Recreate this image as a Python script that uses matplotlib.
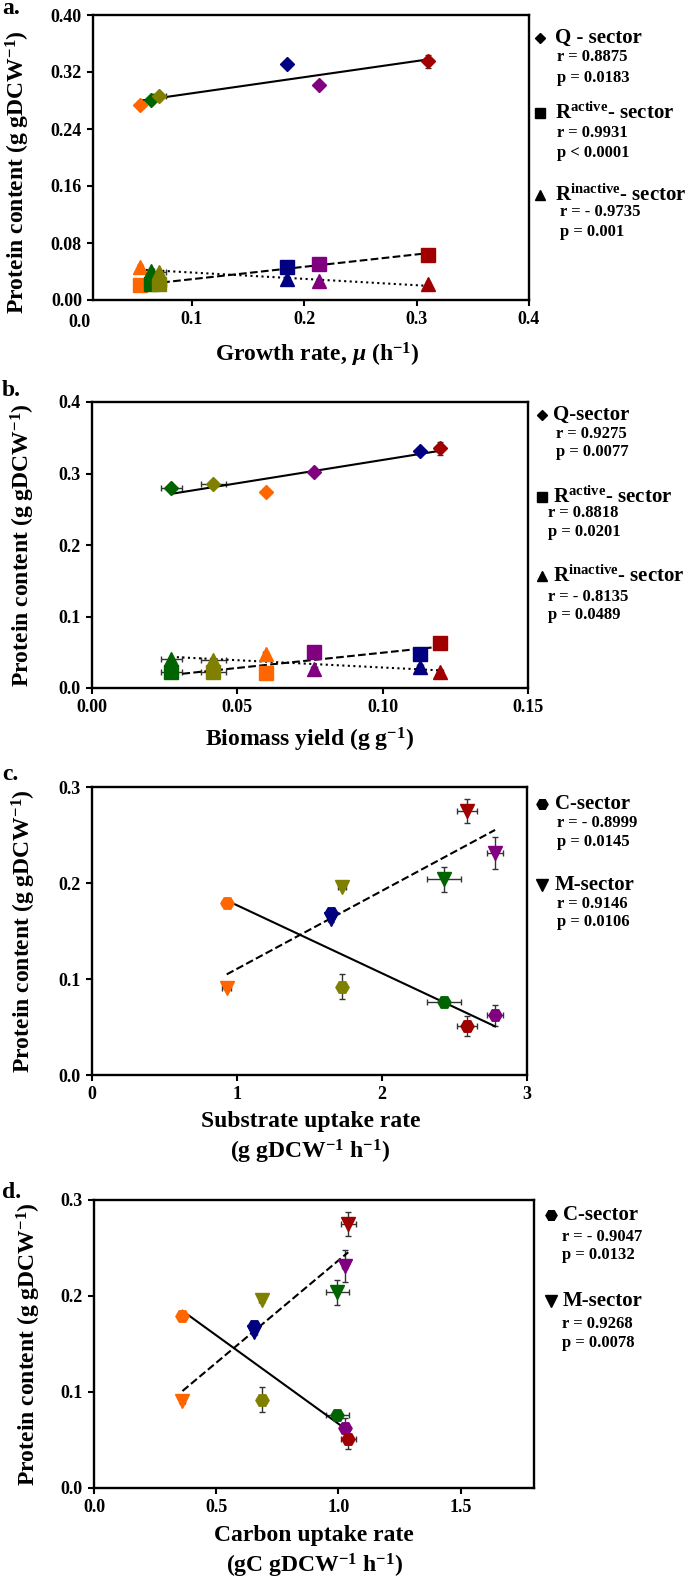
import matplotlib
matplotlib.use('Agg')
import matplotlib.pyplot as plt
from matplotlib.lines import Line2D
import numpy as np

plt.rcParams['font.family'] = ['Liberation Serif', 'DejaVu Sans']
plt.rcParams['font.weight'] = 'bold'
plt.rcParams['mathtext.fontset'] = 'custom'
plt.rcParams['mathtext.rm'] = 'Liberation Serif:bold'
plt.rcParams['mathtext.bf'] = 'Liberation Serif:bold'
plt.rcParams['mathtext.it'] = 'Liberation Serif:bold:italic'
plt.rcParams['mathtext.default'] = 'rm'

# strains: orange, green, olive, blue, purple, red
colors = ['#FF6600', '#006400', '#808000', '#000080', '#800080', '#A00000']

growth_rate = [0.054, 0.064, 0.071, 0.185, 0.213, 0.310]
growth_err = [0.002, 0.002, 0.006, 0.001, 0.002, 0.002]
biomass_yield = [0.0597, 0.0273, 0.0418, 0.1128, 0.0765, 0.1197]
yield_err = [0.001, 0.0037, 0.0043, 0.001, 0.001, 0.001]
substrate_uptake = [0.929, 2.428, 1.725, 1.645, 2.780, 2.588]
substrate_err = [0.03, 0.118, 0.03, 0.02, 0.057, 0.07]
carbon_uptake = [0.362, 0.995, 0.687, 0.656, 1.025, 1.040]
carbon_err = [0.01, 0.047, 0.01, 0.01, 0.012, 0.03]

q_sector = [0.274, 0.280, 0.286, 0.331, 0.302, 0.335]
q_err = [0.002, 0.002, 0.002, 0.002, 0.003, 0.009]
r_active = [0.021, 0.022, 0.023, 0.047, 0.051, 0.063]
r_active_err = [0.001, 0.001, 0.001, 0.001, 0.001, 0.001]
r_inactive = [0.047, 0.041, 0.039, 0.029, 0.027, 0.022]
r_inactive_err = [0.002, 0.001, 0.001, 0.001, 0.001, 0.001]
c_sector = [0.179, 0.076, 0.092, 0.169, 0.062, 0.051]
c_err = [0.002, 0.003, 0.013, 0.003, 0.011, 0.01]
m_sector = [0.091, 0.204, 0.196, 0.162, 0.231, 0.275]
m_err = [0.002, 0.013, 0.002, 0.003, 0.0165, 0.0125]

W, H = 685, 1580
fig = plt.figure(figsize=(W / 100, H / 100), dpi=100)


def add_ax(l, t, r, b):
    return fig.add_axes([l / W, 1 - b / H, (r - l) / W, (b - t) / H])


def fpos(x, y):
    return x / W, 1 - y / H


def style_ax(ax):
    for s in ax.spines.values():
        s.set_linewidth(1.7)
    ax.tick_params(direction='out', length=4.5, width=1.5, labelsize=13)


def draw_series(ax, x, xerr, y, yerr, marker, ms, ls):
    for i in range(len(x)):
        ax.errorbar(x[i], y[i], xerr=xerr[i], yerr=yerr[i], fmt='none',
                    ecolor='#333333', elinewidth=1, capsize=2.5, capthick=1, zorder=2)
    k, c0 = np.polyfit(x, y, 1)
    xs = np.array([min(x), max(x)])
    ax.plot(xs, k * xs + c0, color='black', ls=ls, lw=1.5, zorder=3)
    for i in range(len(x)):
        ax.plot(x[i], y[i], marker=marker, ms=ms, color=colors[i],
                mec=colors[i], ls='none', zorder=4)


def legend(entries, mx, marks):
    # entries: (x, y, text, size)
    for x, y, txt, size in entries:
        fig.text(*fpos(x, y), txt, ha='left', va='center', fontsize=size, fontweight='bold')
    for y, m, ms in marks:
        fig.add_artist(Line2D([mx / W], [1 - y / H], marker=m, ms=ms, color='black',
                              ls='none', transform=fig.transFigure))


ylab = 'Protein content (g gDCW$^{-1}$)'

# ---- panel a
ax = add_ax(93, 15, 529, 300)
style_ax(ax)
draw_series(ax, growth_rate, growth_err, q_sector, q_err, 'D', 7, '-')
draw_series(ax, growth_rate, growth_err, r_active, r_active_err, 's', 9.5, '--')
draw_series(ax, growth_rate, growth_err, r_inactive, r_inactive_err, '^', 9.5, ':')
ax.set_xlim(0.012, 0.4)
ax.set_ylim(0, 0.40)
ax.set_xticks([0.1, 0.2, 0.3, 0.4])
ax.set_xticklabels(['0.1', '0.2', '0.3', '0.4'])
ax.set_yticks(np.arange(0, 0.41, 0.08))
ax.set_yticklabels(['%.2f' % v for v in np.arange(0, 0.41, 0.08)])
ax.text(0.0, -0.078, '0.0', transform=ax.get_xaxis_transform(), ha='center',
        va='center', fontsize=13, fontweight='bold', clip_on=False)
ax.set_xlabel(r'Growth rate, $\mathit{\mu}$ (h$^{-1}$)', fontsize=17, fontweight='bold')
ax.xaxis.set_label_coords(0.514, -0.193)
ax.xaxis.label.set_va('center')
ax.set_ylabel(ylab, fontsize=17, fontweight='bold')
ax.yaxis.set_label_coords(-0.14, 0.45)
fig.text(*fpos(2, 8), 'a.', fontsize=17, fontweight='bold', va='center')
legend([(555, 38, 'Q - sector', 15), (557, 57, 'r = 0.8875', 12), (557, 78, 'p = 0.0183', 12),
        (555, 113, 'R$^{\\rm active}$- sector', 15), (557, 133, 'r = 0.9931', 12),
        (557, 153, 'p < 0.0001', 12),
        (555, 195, 'R$^{\\rm inactive}$- sector', 15), (560, 212, 'r = - 0.9735', 12),
        (560, 232, 'p = 0.001', 12)],
       540, [(38, 'D', 5), (113, 's', 7), (195, '^', 7)])

# ---- panel b
ax = add_ax(92, 402, 528, 688)
style_ax(ax)
draw_series(ax, biomass_yield, yield_err, q_sector, q_err, 'D', 7, '-')
draw_series(ax, biomass_yield, yield_err, r_active, r_active_err, 's', 9.5, '--')
draw_series(ax, biomass_yield, yield_err, r_inactive, r_inactive_err, '^', 9.5, ':')
ax.set_xlim(0, 0.15)
ax.set_ylim(0, 0.4)
ax.set_xticks([0, 0.05, 0.10, 0.15])
ax.set_xticklabels(['0.00', '0.05', '0.10', '0.15'])
ax.set_yticks([0, 0.1, 0.2, 0.3, 0.4])
ax.set_yticklabels(['0.0', '0.1', '0.2', '0.3', '0.4'])
ax.set_xlabel('Biomass yield (g g$^{-1}$)', fontsize=17, fontweight='bold')
ax.xaxis.set_label_coords(0.5, -0.18)
ax.xaxis.label.set_va('center')
ax.set_ylabel(ylab, fontsize=17, fontweight='bold')
ax.yaxis.set_label_coords(-0.125, 0.5)
fig.text(*fpos(2, 390), 'b.', fontsize=17, fontweight='bold', va='center')
legend([(553, 415, 'Q-sector', 15), (556, 434, 'r = 0.9275', 12), (556, 452, 'p = 0.0077', 12),
        (553, 497, 'R$^{\\rm active}$- sector', 15), (548, 513, 'r = 0.8818', 12),
        (548, 532, 'p = 0.0201', 12),
        (553, 576, 'R$^{\\rm inactive}$- sector', 15), (548, 597, 'r = - 0.8135', 12),
        (548, 615, 'p = 0.0489', 12)],
       542, [(415, 'D', 5), (497, 's', 7), (576, '^', 7)])

# ---- panel c
ax = add_ax(92, 787, 527, 1075)
style_ax(ax)
draw_series(ax, substrate_uptake, substrate_err, c_sector, c_err, 'H', 9.5, '-')
draw_series(ax, substrate_uptake, substrate_err, m_sector, m_err, 'v', 9.5, '--')
ax.set_xlim(0, 3)
ax.set_ylim(0, 0.3)
ax.set_xticks([0, 1, 2, 3])
ax.set_yticks([0, 0.1, 0.2, 0.3])
ax.set_yticklabels(['0.0', '0.1', '0.2', '0.3'])
ax.set_xlabel('Substrate uptake rate\n(g gDCW$^{-1}$ h$^{-1}$)', fontsize=17,
              fontweight='bold', linespacing=1.3)
ax.xaxis.set_label_coords(0.502, -0.22)
ax.xaxis.label.set_va('center')
ax.set_ylabel(ylab, fontsize=17, fontweight='bold')
ax.yaxis.set_label_coords(-0.125, 0.5)
fig.text(*fpos(2, 775), 'c.', fontsize=17, fontweight='bold', va='center')
legend([(555, 804, 'C-sector', 15), (557, 823, 'r = - 0.8999', 12), (557, 842, 'p = 0.0145', 12),
        (555, 885, 'M-sector', 15), (557, 904, 'r = 0.9146', 12), (557, 922, 'p = 0.0106', 12)],
       542, [(804, 'H', 8), (885, 'v', 8)])

# ---- panel d
ax = add_ax(94, 1200, 534, 1488)
style_ax(ax)
draw_series(ax, carbon_uptake, carbon_err, c_sector, c_err, 'H', 9.5, '-')
draw_series(ax, carbon_uptake, carbon_err, m_sector, m_err, 'v', 9.5, '--')
ax.set_xlim(0, 1.8)
ax.set_ylim(0, 0.3)
ax.set_xticks([0, 0.5, 1.0, 1.5])
ax.set_xticklabels(['0.0', '0.5', '1.0', '1.5'])
ax.set_yticks([0, 0.1, 0.2, 0.3])
ax.set_yticklabels(['0.0', '0.1', '0.2', '0.3'])
ax.set_xlabel('Carbon uptake rate\n(gC gDCW$^{-1}$ h$^{-1}$)', fontsize=17,
              fontweight='bold', linespacing=1.3)
ax.xaxis.set_label_coords(0.5, -0.224)
ax.xaxis.label.set_va('center')
ax.set_ylabel(ylab, fontsize=17, fontweight='bold')
ax.yaxis.set_label_coords(-0.115, 0.5)
fig.text(*fpos(2, 1193), 'd.', fontsize=17, fontweight='bold', va='center')
legend([(563, 1215, 'C-sector', 15), (562, 1237, 'r = - 0.9047', 12), (562, 1255, 'p = 0.0132', 12),
        (563, 1301, 'M-sector', 15), (562, 1324, 'r = 0.9268', 12), (562, 1343, 'p = 0.0078', 12)],
       551, [(1215, 'H', 8), (1301, 'v', 8)])

fig.savefig('out.png', dpi=100)
